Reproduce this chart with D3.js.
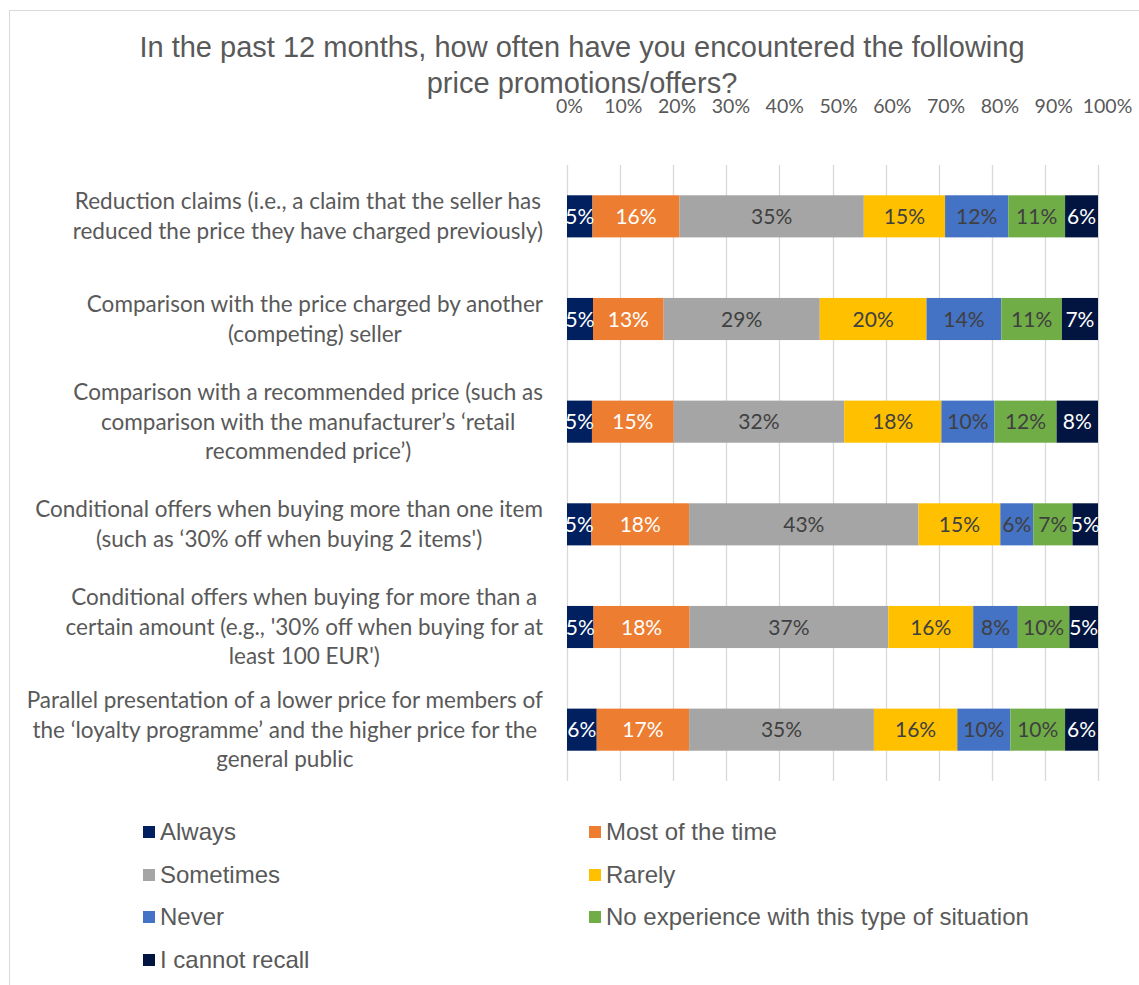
<!DOCTYPE html>
<html>
<head>
<meta charset="utf-8">
<script src="https://cdn.jsdelivr.net/npm/d3@7"></script>
<style>
  body { margin: 0; background: #fff; }
  svg { display: block; }
</style>
</head>
<body>
<div id="chart"></div>
<script>
var categories = [
    ["Reduction claims (i.e., a claim that the seller has", "reduced the price they have charged previously)"],
    ["Comparison with the price charged by another", "(competing) seller"],
    ["Comparison with a recommended price (such as", "comparison with the manufacturer\u2019s \u2018retail", "recommended price\u2019)"],
    ["Conditional offers when buying more than one item", "(such as \u201830% off when buying 2 items')"],
    ["Conditional offers when buying for more than a", "certain amount (e.g., '30% off when buying for at", "least 100 EUR')"],
    ["Parallel presentation of a lower price for members of", "the \u2018loyalty programme\u2019 and the higher price for the", "general public"]
];

var seriesNames = ["Always", "Most of the time", "Sometimes", "Rarely", "Never",
    "No experience with this type of situation", "I cannot recall"];

var always     = [4.8, 4.9, 4.7, 4.6, 5.0, 5.6];
var mostTime   = [16.4, 13.3, 15.4, 18.4, 18.1, 17.4];
var sometimes  = [34.7, 29.4, 32.1, 43.2, 37.4, 34.8];
var rarely     = [15.3, 20.1, 18.3, 15.4, 16.0, 15.7];
var never      = [11.9, 14.1, 10.0, 6.2, 8.4, 10.0];
var noExp      = [10.7, 11.4, 11.7, 7.4, 9.7, 10.3];
var cantRecall = [6.2, 6.8, 7.8, 4.8, 5.4, 6.2];

var tickValues = [0, 10, 20, 30, 40, 50, 60, 70, 80, 90, 100];

var colors = ["#002060", "#ED7D31", "#A5A5A5", "#FFC000", "#4472C4", "#70AD47", "#021540"];
var labelColors = ["#fff", "#fff", "#404040", "#404040", "#404040", "#404040", "#fff"];

var svgWidth = 1139, svgHeight = 985;
var margin = {top: 165, left: 567, right: 41, bottom: 204};
var width = svgWidth - margin.left - margin.right,
    height = svgHeight - margin.top - margin.bottom;

var textColor = "#595959";
var catFont = "Lato, 'Open Sans', sans-serif";
var arialFont = "'Liberation Sans', Arial, sans-serif";

var allSeries = [always, mostTime, sometimes, rarely, never, noExp, cantRecall];
var rows = categories.map((c, i) => {
    var r = {idx: i};
    seriesNames.forEach((s, j) => { r[s] = allSeries[j][i]; });
    return r;
});

var stacked = d3.stack().keys(seriesNames)(rows);

var svg = d3.select("#chart").append("svg")
    .attr("width", svgWidth)
    .attr("height", svgHeight);

svg.append("rect")
    .attr("x", 9.5).attr("y", 10.5)
    .attr("width", svgWidth + 10).attr("height", svgHeight + 10)
    .attr("fill", "none")
    .attr("stroke", "#d9d9d9")
    .attr("stroke-width", 1);

// title
svg.append("text")
    .attr("text-anchor", "middle")
    .style("font-family", arialFont)
    .style("font-size", "29px")
    .style("fill", textColor)
    .selectAll("tspan")
    .data(["In the past 12 months, how often have you encountered the following", "price promotions/offers?"])
    .enter().append("tspan")
    .attr("x", 582)
    .attr("y", (d, i) => 57 + i * 36)
    .text(d => d);

var x = d3.scaleLinear().domain([0, 100]).range([0, width]);
// the top labels run a little wider than the gridlines in the original
var xLab = d3.scaleLinear().domain([0, 100]).range([2, width + 9]);
var y = d3.scaleBand().domain(d3.range(categories.length)).range([0, height]).paddingInner(0.59).paddingOuter(0.295);

var g = svg.append("g").attr("transform", `translate(${margin.left}, ${margin.top})`);

// grid
g.append("g")
    .attr("class", "grid")
    .selectAll("line")
    .data(tickValues)
    .enter().append("line")
    .attr("x1", d => Math.round(x(d)) + 0.5)
    .attr("x2", d => Math.round(x(d)) + 0.5)
    .attr("y1", 0)
    .attr("y2", height)
    .attr("stroke", "#d9d9d9")
    .attr("stroke-width", 1.3);

// top axis labels
var ax = g.append("g")
    .attr("transform", "translate(0, -52)")
    .call(d3.axisTop(xLab).tickValues(tickValues).tickFormat(d => d + "%").tickSize(0).tickPadding(0));
ax.select(".domain").remove();
ax.selectAll("text")
    .style("font-family", catFont)
    .style("font-size", "19.5px")
    .style("fill", textColor);

// bars
var layer = g.selectAll("g.layer")
    .data(stacked)
    .enter().append("g")
    .attr("class", "layer")
    .attr("fill", (d, i) => colors[i]);

layer.selectAll("rect")
    .data(d => d)
    .enter().append("rect")
    .attr("x", d => x(d[0]))
    .attr("y", (d, i) => y(i))
    .attr("width", d => x(d[1]) - x(d[0]))
    .attr("height", y.bandwidth());

// value labels
stacked.forEach((s, j) => {
    g.append("g")
        .selectAll("text")
        .data(s)
        .enter().append("text")
        .attr("x", d => (x(d[0]) + x(d[1])) / 2)
        .attr("y", (d, i) => y(i) + y.bandwidth() / 2)
        .attr("dy", "0.36em")
        .attr("text-anchor", "middle")
        .style("font-family", catFont)
        .style("font-size", "21px")
        .style("fill", labelColors[j])
        .text(d => Math.round(d[1] - d[0]) + "%");
});

// category labels
var lineH = 29.5;
var cat = svg.append("g");
categories.forEach((lines, i) => {
    var cy = margin.top + y(i) + y.bandwidth() / 2;
    var t = cat.append("text")
        .attr("text-anchor", "middle")
        .style("font-family", catFont)
        .style("font-size", "22.5px")
        .style("fill", textColor);
    var spans = t.selectAll("tspan")
        .data(lines)
        .enter().append("tspan")
        .attr("y", (d, k) => cy + (k - (lines.length - 1) / 2) * lineH)
        .attr("dy", "0.35em")
        .text(d => d);
    var maxW = 0;
    spans.each(function() { maxW = Math.max(maxW, this.getComputedTextLength()); });
    spans.attr("x", 543 - maxW / 2);
});

// legend
var legendX = [143, 589];
var legendY = [832, 875, 917, 960];
var legend = svg.append("g");
seriesNames.forEach((s, i) => {
    var lx = legendX[i % 2], ly = legendY[Math.floor(i / 2)];
    legend.append("rect")
        .attr("x", lx)
        .attr("y", ly - 6)
        .attr("width", 12)
        .attr("height", 12)
        .attr("fill", colors[i]);
    legend.append("text")
        .attr("x", lx + 17)
        .attr("y", ly)
        .attr("dy", "0.35em")
        .style("font-family", arialFont)
        .style("font-size", "24px")
        .style("fill", textColor)
        .text(s);
});
</script>
</body>
</html>
